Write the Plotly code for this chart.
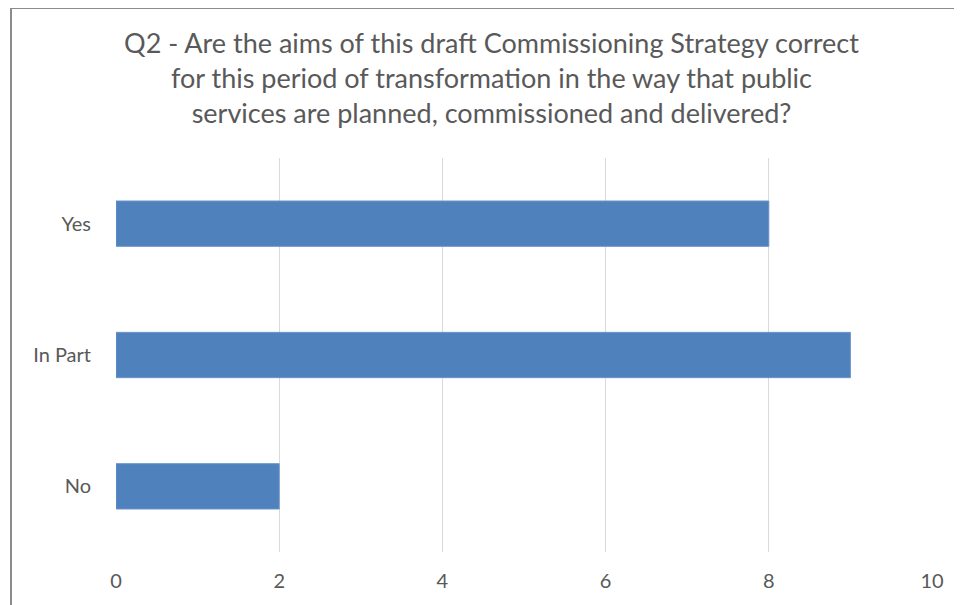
import plotly.graph_objects as go

categories = ["Yes", "In Part", "No"]
values = [8, 9, 2]
x_ticks = [0, 2, 4, 6, 8, 10]
title_text = ("Q2 - Are the aims of this draft Commissioning Strategy correct<br>"
              "for this period of transformation in the way that public<br>"
              "services are planned, commissioned and delivered?")

FONT = "Lato, Carlito, Calibri, sans-serif"
TXT = "#595959"

fig = go.Figure(go.Bar(
    x=values, y=categories, orientation="h",
    marker=dict(color="#4F81BD", line=dict(color="#6A95CB", width=1)),
))

# page has an 8px body margin; figure coordinates = page coordinates - 8
OFF = 8
W, H = 962 - OFF, 605 - OFF
L, T = 116 - OFF, 158 - OFF
R = W - (932 - OFF)
B = H - (552 - OFF)
pw, ph = W - L - R, H - T - B

def px(xp):
    return (xp - OFF - L) / pw

def py(yp):
    return (H - B - (yp - OFF)) / ph

border = dict(color="#8c8c8c", width=2)
fig.add_shape(type="line", xref="paper", yref="paper",
              x0=px(11), x1=px(11), y0=py(8), y1=py(620), line=border)
fig.add_shape(type="line", xref="paper", yref="paper",
              x0=px(11), x1=px(980), y0=py(8), y1=py(8), line=border)

fig.update_layout(
    width=W, height=H,
    margin=dict(l=L, r=R, t=T, b=B),
    paper_bgcolor="white", plot_bgcolor="white",
    font=dict(family=FONT, color=TXT, size=20),
    title=dict(text=title_text, x=(491.5 - OFF) / W, xref="container", xanchor="center",
               y=1 - (53 - OFF) / H, yref="container", yanchor="middle",
               font=dict(family=FONT, size=27, color=TXT)),
    bargap=0.655,
    showlegend=False,
)
fig.update_xaxes(range=[0, 10], tickvals=x_ticks, showgrid=True, gridcolor="#d9d9d9",
                 gridwidth=1, zeroline=False, showline=False,
                 ticks="outside", ticklen=11, tickcolor="rgba(0,0,0,0)",
                 tickfont=dict(size=20, color=TXT, family=FONT))
fig.update_yaxes(categoryorder="array", categoryarray=categories[::-1],
                 showgrid=False, zeroline=False, showline=False,
                 ticks="outside", ticklen=20, tickcolor="rgba(0,0,0,0)",
                 tickfont=dict(size=20, color=TXT, family=FONT))

fig.write_html("out.html")
